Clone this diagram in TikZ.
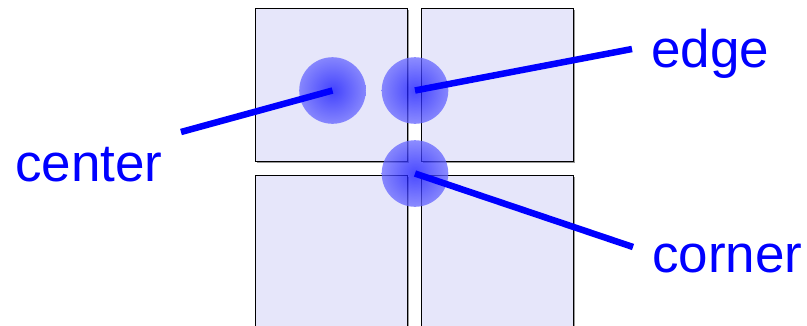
\documentclass[tikz,border=0pt]{standalone}
\usepackage{fontspec}
\setmainfont{Liberation Sans}
\usetikzlibrary{positioning,shadows}

\begin{document}
\begin{tikzpicture}[
  x=1pt, y=-1pt,
  node distance=14pt,
  every node/.style={font=\fontsize{53}{61}\selectfont},
  tile/.style={draw, line width=0.8pt, fill={rgb,255:red,230;green,230;blue,250}, inner sep=0pt, outer sep=0pt,
    minimum width=152pt, minimum height=152.5pt,
    drop shadow={shadow xshift=1.5pt, shadow yshift=-1.5pt, fill=gray!80, opacity=1}},
  spot/.style={circle, inner sep=0pt, minimum size=66.6pt, shading=radial,
    inner color=blue!95, outer color=blue!60, fill opacity=0.75},
  tag/.style={anchor=base west, text=blue, inner sep=0pt},
  pointer/.style={blue, line width=6.5pt}
]
\useasboundingbox (0,0) rectangle (807,325);
% four tiles
\node[tile, anchor=north west] (tl) at (255.5,8.5) {};
\node[tile, right=of tl] (tr) {};
\node[tile, below=of tl] (bl) {};
\node[tile, below=of tr] (br) {};
% sample spots
\node[spot] (center) at (332.5,90.5) {};
\node[spot] (edge) at (415,90.5) {};
\node[spot] (corner) at (415,173.5) {};
% labels
\node[tag] (lcenter) at (15,181) {center};
\node[tag] (ledge) at (651,67) {edge};
\node[tag] (lcorner) at (652,272) {corner};
\coordinate (pcenter) at (181,132);
\coordinate (pedge) at (632,49);
\coordinate (pcorner) at (633,247);
\draw[pointer] (center.center) -- (pcenter);
\draw[pointer] (edge.center) -- (pedge);
\draw[pointer] (corner.center) -- (pcorner);
\end{tikzpicture}
\end{document}
